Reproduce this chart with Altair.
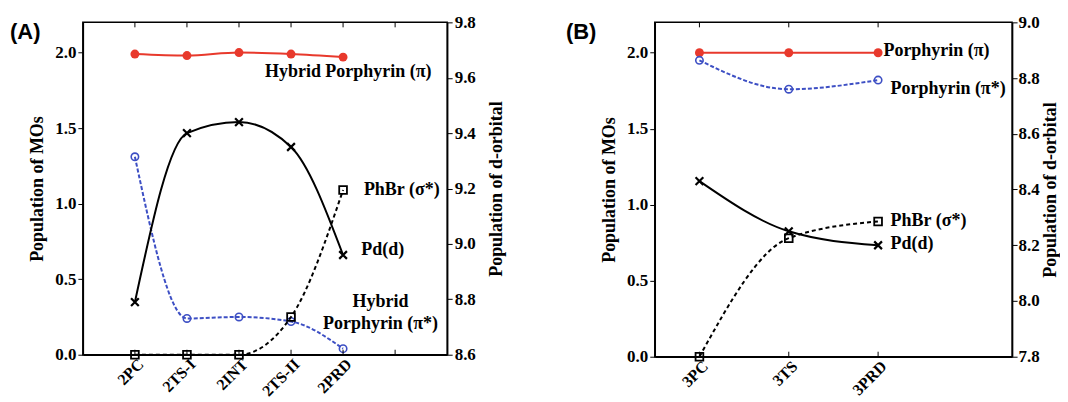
import altair as alt
import pandas as pd

# ---------------- data ----------------
a_states = ["2PC", "2TS-I", "2INT", "2TS-II", "2PRD"]
a_pos = [1, 2, 3, 4, 5]
a_pi = [1.99, 1.98, 2.00, 1.99, 1.97]
a_pistar = [1.31, 0.24, 0.25, 0.22, 0.04]
a_phbr = [0.0, 0.0, 0.0, 0.25, 1.09]
a_pd = [8.79, 9.40, 9.44, 9.35, 8.96]
a_ticks = [1, 2, 3, 4, 5, 6]

b_states = ["3PC", "3TS", "3PRD"]
b_pos = [1, 2, 3]
b_pi = [2.00, 2.00, 2.00]
b_pistar = [1.95, 1.76, 1.82]
b_phbr = [0.0, 0.78, 0.89]
b_pd = [8.43, 8.25, 8.20]
b_ticks = [1, 2, 3]

a_lab_text = ["Hybrid Porphyrin (\u03c0)", "PhBr (\u03c3*)", "Pd(d)"]
a_lab_x = [3.5, 5.4, 5.35]
a_lab_y = [1.87, 1.09, 0.69]
a_lab2_text = ["Hybrid", "Porphyrin (\u03c0*)"]
a_lab2_x = [5.72, 5.72]
a_lab2_y = [0.35, 0.205]

b_lab_text = ["Porphyrin (\u03c0)", "Porphyrin (\u03c0*)", "PhBr (\u03c3*)", "Pd(d)"]
b_lab_x = [3.06, 3.14, 3.14, 3.14]
b_lab_y = [2.01, 1.76, 0.89, 0.74]

RED = "#e8392c"
BLUE = "#3d4fc4"
SERIF = "Liberation Serif"
XSHAPE = "M -1 -1 L 1 1 M -1 1 L 1 -1"
LBL = 17
XLBL = 16
TTL = 18
ANN = 18


def panel(tag, states, pos, pi, pistar, phbr, pdv, ticks, xdom, rdom, rvals,
          lab_text, lab_x, lab_y, lab2_text, lab2_x, lab2_y, w, h, rpad, rlpad):
    df = pd.DataFrame({"x": pos, "pi": pi, "pistar": pistar, "phbr": phbr, "pd": pdv})
    tdf = pd.DataFrame({"x": ticks})
    expr = "".join(f"datum.value=={p}?'{s}':" for p, s in zip(pos, states)) + "''"
    xs = alt.Scale(domain=xdom, nice=False, zero=False)
    ys = alt.Scale(domain=[0, 2.2], nice=False, zero=False)
    yr = alt.Scale(domain=rdom, nice=False, zero=False)
    xaxis = alt.Axis(values=pos, labelExpr=expr, labelAngle=-45, ticks=False, grid=False,
                     title=None, labelFont=SERIF, labelFontWeight="bold", labelFontSize=XLBL,
                     labelColor="black", domainColor="black", domainWidth=1.5, labelPadding=1)
    X = alt.X("x:Q", scale=xs, axis=xaxis)
    yl_axis = alt.Axis(values=[0, 0.5, 1.0, 1.5, 2.0], format=".1f", grid=False,
                       title="Population of MOs", titleFont=SERIF, titleFontSize=TTL,
                       titleFontWeight="bold", titleColor="black",
                       labelFont=SERIF, labelFontWeight="bold", labelFontSize=LBL,
                       labelColor="black", tickColor="black", tickSize=5, domainColor="black",
                       domainWidth=1.5, titlePadding=8)
    yr_axis = alt.Axis(values=rvals, format=".1f", grid=False, orient="right",
                       title="Population of d-orbital", titleFont=SERIF, titleFontSize=TTL,
                       titleFontWeight="bold", titleColor="black", titleAngle=270,
                       titleBaseline="top",
                       labelFont=SERIF, labelFontWeight="bold", labelFontSize=LBL,
                       labelColor="black", tickColor="black", tickSize=5, domainColor="black",
                       domainWidth=1.5, titlePadding=rpad, labelPadding=rlpad)
    base = alt.Chart(df)
    red_line = base.mark_line(color=RED, strokeWidth=2, interpolate="monotone").encode(
        x=X, y=alt.Y("pi:Q", scale=ys, axis=yl_axis))
    red_pts = base.mark_point(filled=True, color=RED, size=80, opacity=1).encode(
        x=X, y=alt.Y("pi:Q", scale=ys))
    blue_line = base.mark_line(color=BLUE, strokeWidth=2, strokeDash=[4, 2],
                               interpolate="monotone").encode(x=X, y=alt.Y("pistar:Q", scale=ys))
    blue_pts = base.mark_point(filled=False, color=BLUE, size=55, strokeWidth=1.6, opacity=1).encode(
        x=X, y=alt.Y("pistar:Q", scale=ys))
    ph_line = base.mark_line(color="black", strokeWidth=2, strokeDash=[4, 3],
                             interpolate="monotone").encode(x=X, y=alt.Y("phbr:Q", scale=ys))
    ph_pts = base.mark_point(shape="square", filled=False, color="black", size=60,
                             strokeWidth=1.8, opacity=1).encode(x=X, y=alt.Y("phbr:Q", scale=ys))
    tick_b = alt.Chart(tdf).mark_rule(color="black", strokeWidth=1).encode(
        x=alt.X("x:Q", scale=xs), y=alt.value(h), y2=alt.value(h - 5))
    tick_t = alt.Chart(tdf).mark_rule(color="black", strokeWidth=1).encode(
        x=alt.X("x:Q", scale=xs), y=alt.value(0), y2=alt.value(5))
    ldf = pd.DataFrame({"x": lab_x, "y": lab_y, "t": lab_text})
    labs = alt.Chart(ldf).mark_text(align="left", font=SERIF, fontWeight="bold", fontSize=ANN,
                                    color="black").encode(
        x=alt.X("x:Q", scale=xs), y=alt.Y("y:Q", scale=ys), text="t:N")
    layers = [red_line, red_pts, blue_line, blue_pts, ph_line, ph_pts, tick_b, tick_t, labs]
    if lab2_text:
        l2df = pd.DataFrame({"x": lab2_x, "y": lab2_y, "t": lab2_text})
        layers.append(alt.Chart(l2df).mark_text(align="center", font=SERIF, fontWeight="bold",
                                                fontSize=ANN, color="black").encode(
            x=alt.X("x:Q", scale=xs), y=alt.Y("y:Q", scale=ys), text="t:N"))
    tagdf = pd.DataFrame({"t": [tag]})
    layers.append(alt.Chart(tagdf).mark_text(align="left", font="Liberation Sans", fontWeight="bold",
                                             fontSize=22, color="black").encode(
        x=alt.value(-73 if tag == "(A)" else -89), y=alt.value(10), text="t:N"))
    left = alt.layer(*layers)
    pd_line = base.mark_line(color="black", strokeWidth=2, interpolate="monotone").encode(
        x=X, y=alt.Y("pd:Q", scale=yr, axis=yr_axis))
    pd_pts = base.mark_point(shape=XSHAPE, filled=False, color="black", size=60, strokeWidth=2.2,
                             opacity=1).encode(x=X, y=alt.Y("pd:Q", scale=yr))
    right = alt.layer(pd_line, pd_pts)
    return alt.layer(left, right).resolve_scale(y="independent").properties(width=w, height=h)


pa = panel("(A)", a_states, a_pos, a_pi, a_pistar, a_phbr, a_pd, a_ticks, [0, 7], [8.6, 9.8],
           [8.6, 8.8, 9.0, 9.2, 9.4, 9.6, 9.8], a_lab_text, a_lab_x, a_lab_y,
           a_lab2_text, a_lab2_x, a_lab2_y, 365, 333, 12, 2)
pb = panel("(B)", b_states, b_pos, b_pi, b_pistar, b_phbr, b_pd, b_ticks, [0.5, 4.5], [7.8, 9.0],
           [7.8, 8.0, 8.2, 8.4, 8.6, 8.8, 9.0], b_lab_text, b_lab_x, b_lab_y,
           [], [], [], 358, 335, 2, 1)

chart = alt.hconcat(pa, pb, spacing=59).properties(
    padding={"left": 1, "top": 4, "right": 0, "bottom": 0},
    background="white",
).configure_view(stroke="black", strokeWidth=1.5)

chart.save("out.html", embed_options={"renderer": "svg", "actions": False})
